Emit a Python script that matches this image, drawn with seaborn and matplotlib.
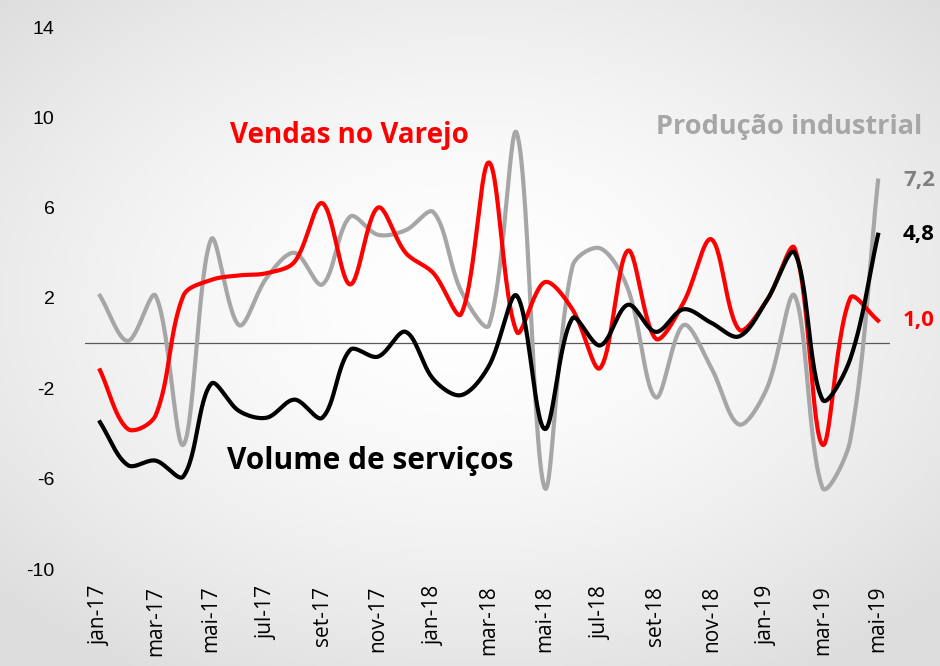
import numpy as np
import pandas as pd
import matplotlib
matplotlib.use("Agg")
import matplotlib.pyplot as plt
import seaborn as sns

# monthly data, jan-17 .. mai-19
months = ["jan-17", "fev-17", "mar-17", "abr-17", "mai-17", "jun-17", "jul-17", "ago-17",
          "set-17", "out-17", "nov-17", "dez-17", "jan-18", "fev-18", "mar-18", "abr-18",
          "mai-18", "jun-18", "jul-18", "ago-18", "set-18", "out-18", "nov-18", "dez-18",
          "jan-19", "fev-19", "mar-19", "abr-19", "mai-19"]

producao = [2.1, 0.1, 2.1, -4.5, 4.6, 0.8, 2.9, 4.0, 2.6, 5.6, 4.8, 5.0, 5.8, 2.3, 0.8,
            9.3, -6.4, 3.4, 4.2, 2.4, -2.4, 0.8, -1.1, -3.6, -2.0, 2.1, -6.4, -4.3, 7.2]
varejo = [-1.2, -3.8, -3.2, 2.1, 2.8, 3.0, 3.1, 3.6, 6.2, 2.6, 6.0, 4.0, 3.1, 1.3, 8.0,
          0.5, 2.7, 1.5, -1.1, 4.1, 0.2, 1.8, 4.6, 0.6, 1.9, 4.2, -4.5, 2.0, 1.0]
servicos = [-3.5, -5.4, -5.2, -5.9, -1.8, -3.0, -3.3, -2.5, -3.3, -0.3, -0.6, 0.5, -1.6,
            -2.3, -1.0, 2.1, -3.8, 1.1, -0.1, 1.7, 0.5, 1.5, 0.9, 0.3, 1.9, 4.0, -2.5, -0.7, 4.8]

tick_labels = months[::2]

RED = "#ff0000"
GRAY = "#a6a6a6"
BLACK = "#000000"

# pixel size of one unit on each axis (used for the spline weighting)
PX_X, PX_Y = 27.8, 22.6


def smooth(values, n=30):
    # Excel-like smoothed line: Bezier segments, tangents weighted by segment length
    y = np.asarray(values, dtype=float)
    x = np.arange(len(y), dtype=float)
    P = np.column_stack([x * PX_X, y * PX_Y])
    P = np.vstack([P[0], P, P[-1]])
    t = np.linspace(0, 1, n)[:, None]
    out = []
    for i in range(len(y) - 1):
        p0, p1, p2, p3 = P[i], P[i + 1], P[i + 2], P[i + 3]
        d01 = np.linalg.norm(p1 - p0)
        d12 = np.linalg.norm(p2 - p1)
        d23 = np.linalg.norm(p3 - p2)
        f1 = d12 / (d01 + d12) if d01 + d12 > 0 else 0
        f2 = d12 / (d12 + d23) if d12 + d23 > 0 else 0
        c1 = p1 + (p2 - p0) * f1 / 3
        c2 = p2 - (p3 - p1) * f2 / 3
        pts = (1 - t) ** 3 * p1 + 3 * (1 - t) ** 2 * t * c1 + 3 * (1 - t) * t ** 2 * c2 + t ** 3 * p2
        out.append(pts)
    pts = np.vstack(out)
    return pts[:, 0] / PX_X, pts[:, 1] / PX_Y


fig = plt.figure(figsize=(9.4, 6.66), dpi=100)

# radial gray background
bg = fig.add_axes([0, 0, 1, 1], zorder=-10)
gx, gy = np.meshgrid(np.linspace(-1, 1, 300), np.linspace(-1, 1, 220))
r = np.sqrt((gx * 0.95) ** 2 + ((gy + 0.1) * 1.0) ** 2)
shade = 1.0 - 0.13 * np.clip(r / 1.3, 0, 1) ** 1.6
bg.imshow(np.dstack([shade] * 3), aspect="auto", extent=[0, 1, 0, 1])
bg.axis("off")

ax = fig.add_axes([85 / 940, 1 - 569 / 666, (890 - 85) / 940, (569 - 27) / 666])
ax.patch.set_alpha(0)

for vals, color, z in [(producao, GRAY, 2), (varejo, RED, 3), (servicos, BLACK, 4)]:
    sx, sy = smooth(vals)
    df = pd.DataFrame({"x": sx, "y": sy})
    sns.lineplot(data=df, x="x", y="y", sort=False, color=color, linewidth=3.0, ax=ax, zorder=z)

ax.axhline(0, color="#595959", linewidth=0.9, zorder=1)

ax.set_xlim(-0.54, 28.43)
ax.set_ylim(-10, 14)
ax.set_yticks([-10, -6, -2, 2, 6, 10, 14])
ax.set_yticklabels(["-10", "-6", "-2", "2", "6", "10", "14"], fontsize=14, family="Liberation Sans")
ax.set_xticks(range(0, len(months), 2))
ax.set_xticklabels(tick_labels, rotation=90, fontsize=15, family="Open Sans", va="top")
ax.tick_params(axis="y", length=0, pad=22)
ax.tick_params(axis="x", length=0, pad=12)
ax.set_xlabel("")
ax.set_ylabel("")
for s in ax.spines.values():
    s.set_visible(False)

# series labels
ax.text(0.18, 0.80, "Vendas no Varejo", transform=ax.transAxes, color=RED,
        fontsize=20, fontweight="bold", family="Open Sans", va="center", ha="left")
ax.text(1.04, 0.815, "Produção industrial", transform=ax.transAxes, color=GRAY,
        fontsize=19.5, fontweight="bold", family="Open Sans", va="center", ha="right")
ax.text(0.177, 0.20, "Volume de serviços", transform=ax.transAxes, color=BLACK,
        fontsize=21.5, fontweight="bold", family="Open Sans", va="center", ha="left")

# end values
last = len(months) - 1
for txt, val, color in [("7,2", producao[-1], "#7f7f7f"), ("4,8", servicos[-1], BLACK),
                        ("1,0", varejo[-1], RED)]:
    ax.annotate(txt, (last, val), xytext=(18, 0), textcoords="offset points",
                color=color, fontsize=16, fontweight="bold", family="Open Sans", va="center",
                annotation_clip=False)

fig.savefig("out.png", dpi=100)
